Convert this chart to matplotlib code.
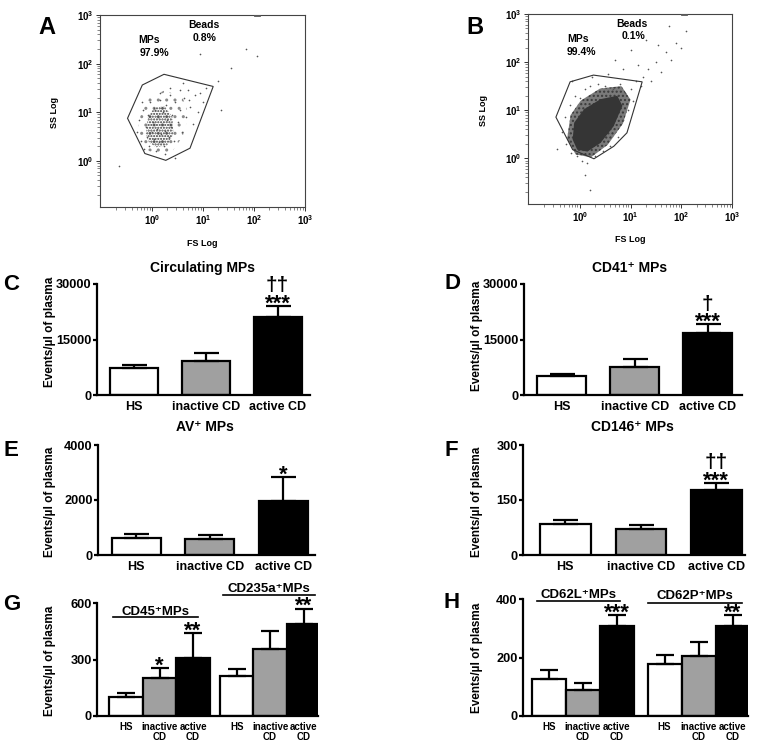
import matplotlib
matplotlib.use("Agg")
import matplotlib.pyplot as plt
import numpy as np
from matplotlib.ticker import LogLocator, NullFormatter

plt.rcParams["font.family"] = ["Liberation Sans", "DejaVu Sans"]
plt.rcParams["font.weight"] = "bold"
plt.rcParams["mathtext.fontset"] = "custom"
plt.rcParams["mathtext.rm"] = "Liberation Sans:bold"
plt.rcParams["mathtext.bf"] = "Liberation Sans:bold"
plt.rcParams["hatch.linewidth"] = 1.0

# ---------------- data ----------------
groups = ["HS", "inactive CD", "active CD"]
groups_2line = ["HS", "inactive\nCD", "active\nCD"]
bar_colors = ["white", "#a0a0a0", "black"]

circ_mean = [7200, 9200, 21100]
circ_sem = [800, 2050, 3000]
cd41_mean = [5200, 7650, 16750]
cd41_sem = [550, 2150, 2350]
av_mean = [630, 570, 1975]
av_sem = [145, 170, 860]
cd146_mean = [84, 72, 178]
cd146_sem = [12, 11, 19]

cd45_mean = [99, 203, 308]
cd45_sem = [24, 50, 132]
cd235a_mean = [213, 357, 488]
cd235a_sem = [36, 92, 82]
cd62l_mean = [126, 89, 308]
cd62l_sem = [30, 24, 37]
cd62p_mean = [178, 204, 308]
cd62p_sem = [31, 50, 37]

# flow cytometry (log10 FS, log10 SS)
gate_a_x = [-0.48, -0.19, 0.235, 1.2, 0.745, 0.27, -0.14]
gate_a_y = [0.875, 1.56, 1.78, 1.53, 0.26, 0.01, 0.15]
mid_a_x = [-0.28, -0.22, -0.05, 0.25, 0.6, 0.72, 0.6, 0.4, 0.1, -0.15]
mid_a_y = [0.6, 0.98, 1.3, 1.45, 1.3, 0.95, 0.5, 0.2, 0.12, 0.25]
core_a_x = [-0.12, -0.08, 0.05, 0.25, 0.4, 0.42, 0.3, 0.08, -0.06]
core_a_y = [0.55, 0.9, 1.1, 1.12, 0.9, 0.55, 0.32, 0.28, 0.38]
dots_a_x = [-0.30, -0.25, -0.22, -0.18, -0.15, -0.12, -0.10, -0.08, -0.05, -0.03,
            0.00, 0.02, 0.04, 0.06, 0.08, 0.10, 0.12, 0.14, 0.16, 0.18,
            0.20, 0.22, 0.24, 0.26, 0.28, 0.30, 0.33, 0.36, 0.38, 0.40,
            0.43, 0.46, 0.50, 0.54, 0.58, 0.62, 0.66, 0.70, 0.75, 0.80,
            0.85, 0.90, 0.95, 1.00, 1.05, 0.55, 0.35, 0.15, -0.20, 0.25,
            1.30, 1.55, 1.85, 2.05, 0.95, -0.65, 1.35, 0.45, 0.60, 0.72]
dots_a_y = [0.60, 0.85, 0.40, 1.05, 0.25, 0.70, 0.50, 0.95, 0.30, 1.20,
            0.60, 0.80, 0.45, 1.05, 0.20, 0.65, 0.90, 0.38, 1.25, 0.55,
            0.75, 1.00, 0.30, 0.62, 1.15, 0.85, 0.48, 1.35, 0.70, 0.95,
            0.40, 1.20, 0.80, 1.05, 0.60, 1.30, 0.90, 1.45, 1.10, 0.75,
            1.35, 1.00, 1.40, 1.20, 1.50, 1.45, 1.50, 1.40, 1.20, 0.15,
            1.65, 1.90, 2.30, 2.15, 2.20, -0.10, 1.05, 0.05, 1.60, 1.25]

gate_b_x = [-0.47, -0.19, 0.27, 1.23, 0.93, 0.67, 0.28, -0.14]
gate_b_y = [0.856, 1.59, 1.73, 1.59, 0.53, 0.25, -0.01, 0.18]
mid_b_x = [-0.25, -0.18, 0.02, 0.4, 0.82, 1.0, 0.85, 0.55, 0.22, -0.08]
mid_b_y = [0.4, 0.9, 1.2, 1.45, 1.5, 1.22, 0.72, 0.28, 0.02, 0.08]
core_b_x = [-0.14, -0.11, 0.085, 0.41, 0.74, 0.84, 0.67, 0.41, 0.15, -0.05]
core_b_y = [0.39, 0.74, 1.02, 1.23, 1.30, 1.09, 0.67, 0.32, 0.14, 0.18]
dots_b_x = [-0.35, -0.30, -0.28, -0.20, -0.18, -0.10, -0.05, 0.00, 0.05, 0.10,
            0.15, 0.20, 0.30, 0.35, 0.45, 0.50, 0.60, 0.65, 0.75, 0.80,
            0.85, 0.90, 0.95, 1.00, 1.05, 1.10, 1.20, 1.25, 1.35, 1.40,
            1.50, 1.60, 1.70, 1.80, 1.90, 2.00, 1.55, 1.15, 0.85, 0.55,
            0.25, 0.70, 1.00, 1.30, 0.10, 0.20, -0.45, -0.15, 2.10, 1.75]
dots_b_y = [0.55, 0.85, 0.30, 1.10, 0.10, 1.30, 0.05, 1.25, -0.05, 1.45,
            -0.10, 1.50, 0.05, 1.55, 0.15, 1.50, 0.25, 1.45, 0.45, 1.55,
            0.80, 1.35, 1.00, 1.45, 1.20, 1.60, 1.50, 1.70, 1.85, 1.60,
            2.00, 1.80, 2.20, 2.05, 2.40, 2.30, 2.35, 1.95, 1.85, 1.75,
            1.70, 2.05, 2.25, 2.45, -0.35, -0.65, 0.20, 1.60, 2.65, 2.75]

W, H = 759, 745


def rect(l, t, r, b):
    return [l / W, 1 - b / H, (r - l) / W, (b - t) / H]


def ftext(fig, x, y, s, **kw):
    fig.text(x / W, 1 - y / H, s, ha="center", va="center", **kw)


def flow_panel(ax, gx, gy, mx, my, cx, cy, dx, dy, core_style, mid_style):
    p = lambda v: 10 ** np.asarray(v)
    ax.set_xscale("log")
    ax.set_yscale("log")
    ax.fill(p(mx), p(my), lw=0, zorder=1, **mid_style)
    ax.fill(p(cx), p(cy), lw=0, zorder=2, **core_style)
    ax.plot(p(dx), p(dy), ls="none", marker="o", ms=1.2, mew=0,
            color="#555555", zorder=3)
    ax.fill(p(gx), p(gy), fill=False, ec="#333333", lw=0.8, zorder=4)
    ax.fill(p([2.0, 2.12, 2.12, 2.0]), p([2.975, 2.975, 3.0, 3.0]),
            color="#999999", ec="#555555", lw=0.6, zorder=4, clip_on=False)
    ax.set_xlim(10 ** -1.02, 10 ** 3.0)
    ax.set_ylim(10 ** -0.95, 10 ** 3.0)
    dec = [1, 10, 100, 1000]
    labs = [r"$\mathbf{10^{%d}}$" % i for i in range(4)]
    ax.set_xticks(dec)
    ax.set_xticklabels(labs)
    ax.set_yticks(dec)
    ax.set_yticklabels(labs)
    for axis in (ax.xaxis, ax.yaxis):
        axis.set_minor_locator(LogLocator(base=10, subs=np.arange(2, 10)))
        axis.set_minor_formatter(NullFormatter())
    ax.tick_params(which="major", length=3, width=0.7, labelsize=7, pad=1.5,
                   color="#333333")
    ax.tick_params(which="minor", length=2, width=0.5, color="#555555")
    for s in ax.spines.values():
        s.set_linewidth(0.8)
        s.set_color("#444444")


def bar_panel(ax, pos, means, sems, labels, ylim, yticks, xlim, capsize,
              xlabelsize=9):
    ax.bar(pos, means, width=0.67 if len(pos) == 3 else 1.0,
           color=bar_colors * (len(pos) // 3), edgecolor="black",
           linewidth=1.6, zorder=2)
    ax.errorbar(pos, means, yerr=[np.zeros(len(means)), sems], fmt="none",
                ecolor="black", elinewidth=1.6, capsize=capsize, capthick=1.6,
                zorder=3)
    ax.set_ylim(*ylim)
    ax.set_xlim(*xlim)
    ax.set_yticks(yticks)
    ax.set_xticks(pos)
    ax.set_xticklabels(labels, fontsize=xlabelsize, linespacing=1.05)
    ax.tick_params(axis="x", length=0, pad=4)
    ax.tick_params(axis="y", length=3, width=1.6, labelsize=9.2, pad=0.8)
    for s in ("top", "right"):
        ax.spines[s].set_visible(False)
    for s in ("left", "bottom"):
        ax.spines[s].set_linewidth(1.6)


def mark(ax, x, top, stars, daggers=None, size=16):
    ax.annotate(stars, (x, top), xytext=(0, -2.5), textcoords="offset points",
                ha="center", va="baseline", fontsize=size, annotation_clip=False)
    if daggers:
        ax.annotate(daggers, (x, top), xytext=(0, 10.5), textcoords="offset points",
                    ha="center", va="baseline", fontsize=15, annotation_clip=False)


def group_label(ax, x0, x1, yline, ytext, text):
    ax.plot([x0, x1], [yline, yline], color="black", lw=1.2, clip_on=False)
    ax.text((x0 + x1) / 2, ytext, text, ha="center", va="center", fontsize=9.5,
            clip_on=False)


fig = plt.figure(figsize=(W / 100, H / 100), dpi=100)

# ---- A, B: flow cytometry ----
axA = fig.add_axes(rect(100, 15, 305, 207))
flow_panel(axA, gate_a_x, gate_a_y, mid_a_x, mid_a_y, core_a_x, core_a_y,
           dots_a_x, dots_a_y,
           dict(facecolor="none", edgecolor="#3a3a3a", hatch="......"),
           dict(facecolor="none", edgecolor="#8a8a8a", hatch=".."))
axB = fig.add_axes(rect(528, 14, 732, 204))
flow_panel(axB, gate_b_x, gate_b_y, mid_b_x, mid_b_y, core_b_x, core_b_y,
           dots_b_x, dots_b_y,
           dict(color="#353535"),
           dict(facecolor="#7a7a7a", edgecolor="#3a3a3a", hatch="...."))

for (x, y, s, fs) in [(149, 40, "MPs", 7.5), (154, 53, "97.9%", 7.5),
                      (204, 25, "Beads", 7.5), (205, 38, "0.8%", 7.5),
                      (578, 39, "MPs", 7.5), (581, 52, "99.4%", 7.5),
                      (632, 24, "Beads", 7.5), (633, 36, "0.1%", 7.5),
                      (202, 243, "FS Log", 6.5), (630, 240, "FS Log", 6.5)]:
    ftext(fig, x, y, s, fontsize=fs)
ftext(fig, 54, 112, "SS Log", fontsize=6.5, rotation=90)
ftext(fig, 483, 111, "SS Log", fontsize=6.5, rotation=90)

# ---- C ----
axC = fig.add_axes(rect(97, 284, 310, 395))
bar_panel(axC, [0, 1, 2], circ_mean, circ_sem, groups, (0, 30000),
          [0, 15000, 30000], (-0.52, 2.45), 9)
mark(axC, 2, circ_mean[2] + circ_sem[2], "***", "\u2020\u2020")
ftext(fig, 203, 268, "Circulating MPs", fontsize=10)

# ---- D ----
axD = fig.add_axes(rect(524, 284, 742, 395))
bar_panel(axD, [0, 1, 2], cd41_mean, cd41_sem, groups, (0, 30000),
          [0, 15000, 30000], (-0.52, 2.47), 9)
mark(axD, 2, cd41_mean[2] + cd41_sem[2], "***", "\u2020")
ftext(fig, 630, 268, "CD41\u207a MPs", fontsize=10)

# ---- E ----
axE = fig.add_axes(rect(98, 445, 315, 555))
bar_panel(axE, [0, 1, 2], av_mean, av_sem, groups, (0, 4000),
          [0, 2000, 4000], (-0.52, 2.43), 9)
mark(axE, 2, av_mean[2] + av_sem[2], "*")
ftext(fig, 205, 427, "AV\u207a MPs", fontsize=10)

# ---- F ----
axF = fig.add_axes(rect(523, 445, 745, 555))
bar_panel(axF, [0, 1, 2], cd146_mean, cd146_sem, groups, (0, 300),
          [0, 150, 300], (-0.56, 2.38), 9)
mark(axF, 2, cd146_mean[2] + cd146_sem[2], "***", "\u2020\u2020")
ftext(fig, 632, 427, "CD146\u207a MPs", fontsize=10)

# ---- G ----
axG = fig.add_axes(rect(97, 603, 318, 716))
posG = [0, 1, 2, 3.3, 4.3, 5.3]
bar_panel(axG, posG, cd45_mean + cd235a_mean, cd45_sem + cd235a_sem,
          groups_2line * 2, (0, 600), [0, 300, 600], (-0.87, 5.73), 6.5,
          xlabelsize=7)
mark(axG, 1, cd45_mean[1] + cd45_sem[1], "*")
mark(axG, 2, cd45_mean[2] + cd45_sem[2], "**")
mark(axG, 5.3, cd235a_mean[2] + cd235a_sem[2], "**")
group_label(axG, -0.39, 2.15, 524, 551, "CD45\u207aMPs")
group_label(axG, 2.9, 5.64, 642, 674, "CD235a\u207aMPs")

# ---- H ----
axH = fig.add_axes(rect(523, 599, 748, 716))
posH = [0, 1, 2, 3.4, 4.4, 5.4]
bar_panel(axH, posH, cd62l_mean + cd62p_mean, cd62l_sem + cd62p_sem,
          groups_2line * 2, (0, 400), [0, 200, 400], (-0.76, 5.85), 6.5,
          xlabelsize=7)
mark(axH, 2, cd62l_mean[2] + cd62l_sem[2], "***")
mark(axH, 5.4, cd62p_mean[2] + cd62p_sem[2], "**")
group_label(axH, -0.35, 2.1, 394, 413, "CD62L\u207aMPs")
group_label(axH, 2.9, 5.68, 387, 411, "CD62P\u207aMPs")

# y labels
for (x, y) in [(50, 332), (477, 336), (50, 502), (477, 502), (50, 661), (477, 658)]:
    ftext(fig, x, y, "Events/\u00b5l of plasma", fontsize=8.5, rotation=90)

# panel letters
for (x, y, s, fs) in [(47, 28, "A", 17), (475, 27, "B", 17), (11, 284, "C", 16),
                      (452, 283, "D", 16), (11, 450, "E", 16), (451, 450, "F", 16),
                      (12, 604, "G", 16), (452, 603, "H", 16)]:
    ftext(fig, x, y, s, fontsize=fs)

fig.savefig("out.png", dpi=100, facecolor="white")
